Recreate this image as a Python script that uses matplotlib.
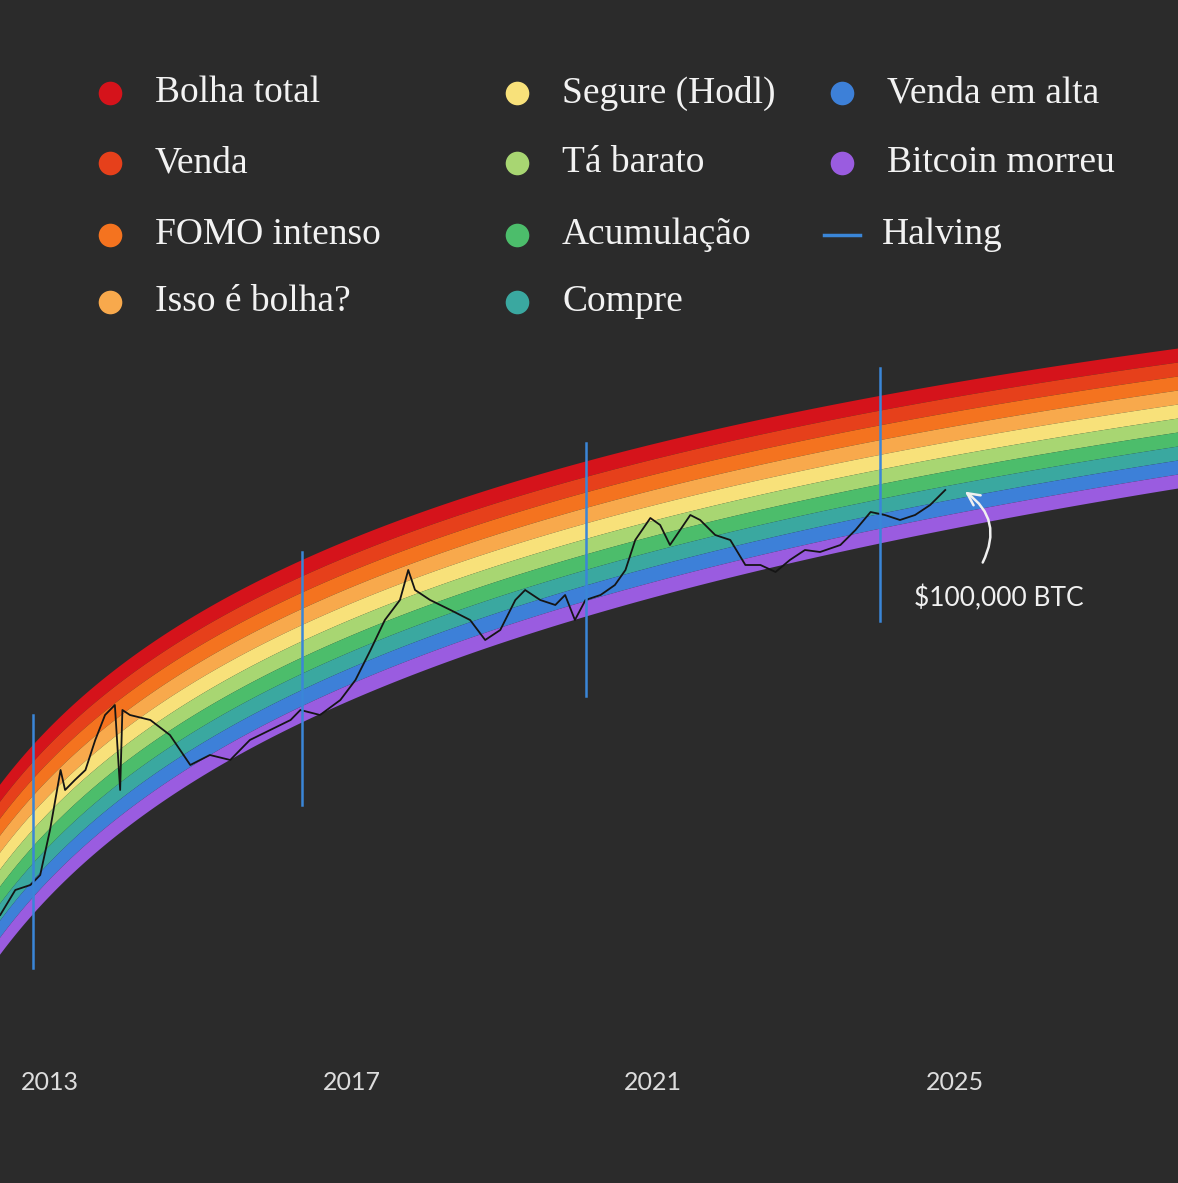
import numpy as np
import matplotlib.pyplot as plt

# legend labels / colours (top band first)
band_labels = ["Bolha total", "Venda", "FOMO intenso", "Isso é bolha?", "Segure (Hodl)",
               "Tá barato", "Acumulação", "Compre", "Venda em alta", "Bitcoin morreu"]
band_colors = ["#d5131b", "#e6401b", "#f4731f", "#f8a94c", "#f8e17a",
               "#a8d672", "#4cbd6b", "#3aa8a0", "#3d80d8", "#9a5ce0"]

# price path: year, level (screen-like units, smaller = higher)
price_t = [2012.34, 2012.54, 2012.74, 2012.87, 2013.00, 2013.14, 2013.20, 2013.33, 2013.47, 2013.60,
           2013.73, 2013.86, 2013.93, 2013.96, 2014.06, 2014.33, 2014.59, 2014.86, 2015.12, 2015.39,
           2015.65, 2015.92, 2016.19, 2016.32, 2016.58, 2016.85, 2017.05, 2017.25, 2017.44, 2017.64,
           2017.75, 2017.84, 2018.04, 2018.31, 2018.57, 2018.77, 2018.97, 2019.17, 2019.30, 2019.50,
           2019.70, 2019.83, 2019.96, 2020.10, 2020.30, 2020.49, 2020.63, 2020.76, 2020.96, 2021.09,
           2021.22, 2021.49, 2021.62, 2021.82, 2022.02, 2022.22, 2022.42, 2022.62, 2022.81, 2023.01,
           2023.21, 2023.48, 2023.68, 2023.88, 2024.07, 2024.27, 2024.47, 2024.67, 2024.87]
price_v = [915, 890, 885, 875, 830, 770, 790, 780, 770, 740,
           715, 705, 790, 710, 715, 720, 735, 765, 755, 760,
           740, 730, 720, 710, 715, 700, 680, 650, 620, 600,
           570, 590, 600, 610, 620, 640, 630, 600, 590, 600,
           605, 595, 620, 600, 595, 585, 570, 540, 518, 525,
           545, 515, 520, 535, 540, 565, 565, 572, 560, 550,
           552, 545, 530, 512, 515, 520, 515, 505, 490]

halving_t = [2012.78, 2016.34, 2020.11, 2024.01]
halving_top = [715, 552, 443, 368]
year_ticks = [2013, 2017, 2021, 2025]

BG = "#2b2b2b"
PX_PER_YEAR = 75.42
T0 = 2012.337

fig = plt.figure(figsize=(11.78, 11.83), dpi=100, facecolor=BG)
ax = fig.add_axes([0, 0, 1, 1])
ax.set_facecolor(BG)
ax.set_xlim(T0, T0 + 1178 / PX_PER_YEAR)
ax.set_ylim(1183, 0)
ax.axis("off")

# rainbow bands
t = np.linspace(T0 - 0.2, T0 + 1200 / PX_PER_YEAR, 400)
px = (t - T0) * PX_PER_YEAR
bottom = 2136 - 230 * np.log(px + 170) + 10 * px / 1178
width = 170 - 30 * px / 1178
n = len(band_colors)
for i, c in enumerate(band_colors):
    hi = bottom - width * (n - i) / n
    lo = bottom - width * (n - i - 1) / n
    ax.fill_between(t, hi, lo, color=c, lw=0)

ax.plot(price_t, price_v, color="#151515", lw=1.3)

for ht, top in zip(halving_t, halving_top):
    ax.plot([ht, ht], [top, top + 253], color="#3a86d8", lw=1.8)

for y in year_ticks:
    ax.text(y, 1083, str(y), color="#dddddd", fontsize=18, family="Lato",
            ha="center", va="center")

ax.text(2024.45, 598, "$100,000 BTC", color="#f0f0f0", fontsize=19, family="Lato",
        va="center")
ax.annotate("", xy=(2025.1, 490), xytext=(2025.35, 565),
            arrowprops=dict(arrowstyle="->", color="#f0f0f0", lw=1.8,
                            connectionstyle="arc3,rad=0.45", mutation_scale=22))

# legend
cols_x = [110, 517, 842]
rows_y = [93, 163, 235, 302]
entries = [(0, 0, 0), (0, 1, 1), (0, 2, 2), (0, 3, 3),
           (1, 0, 4), (1, 1, 5), (1, 2, 6), (1, 3, 7),
           (2, 0, 8), (2, 1, 9)]
for col, row, k in entries:
    x = T0 + cols_x[col] / PX_PER_YEAR
    ax.plot(x, rows_y[row], "o", ms=17, color=band_colors[k], mec="none")
    ax.text(x + 45 / PX_PER_YEAR, rows_y[row], band_labels[k], color="#f2f2f2",
            fontsize=27, family="Liberation Serif", va="center")
x = T0 + cols_x[2] / PX_PER_YEAR
ax.plot([x - 18 / PX_PER_YEAR, x + 18 / PX_PER_YEAR], [rows_y[2]] * 2, color="#3a86d8", lw=2.5)
ax.text(x + 40 / PX_PER_YEAR, rows_y[2], "Halving", color="#f2f2f2",
        fontsize=27, family="Liberation Serif", va="center")

fig.savefig("out.png", dpi=100, facecolor=BG)
